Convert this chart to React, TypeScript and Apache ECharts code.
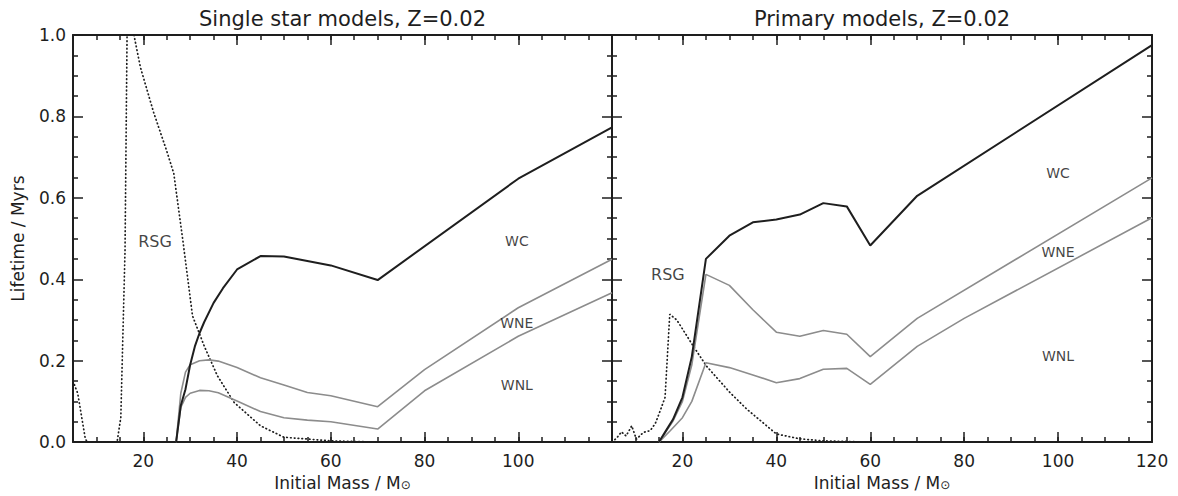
import React, { useEffect, useRef } from 'react';
import * as echarts from 'echarts';

type Pt = [number, number];

const FONT = 'DejaVu Sans';
const INK = '#1e1e1e';
const GREY = '#8c8c8c';

const panelTitles = ['Single star models, Z=0.02', 'Primary models, Z=0.02'];
const xAxisName = 'Initial Mass / M{sun|⊙}';
const yAxisName = 'Lifetime / Myrs';
const majorMassTicks = [20, 40, 60, 80, 100, 120];

// Single star models
const singleWC: Pt[] = [[27, 0], [28, 0.09], [29, 0.13], [30, 0.19], [31, 0.235], [32, 0.268], [33, 0.295], [35, 0.342], [37, 0.378], [40, 0.424], [45, 0.457], [50, 0.456], [60, 0.434], [70, 0.398], [100, 0.647], [120, 0.773]];
const singleWNE: Pt[] = [[27, 0], [28, 0.12], [29, 0.172], [30, 0.19], [32, 0.2], [34, 0.202], [36, 0.199], [40, 0.183], [45, 0.158], [50, 0.14], [55, 0.122], [60, 0.114], [70, 0.087], [80, 0.178], [100, 0.33], [120, 0.449]];
const singleWNL: Pt[] = [[27, 0], [28, 0.085], [29, 0.11], [30, 0.12], [32, 0.127], [34, 0.126], [36, 0.121], [40, 0.101], [45, 0.075], [50, 0.06], [55, 0.054], [60, 0.05], [70, 0.032], [80, 0.126], [100, 0.26], [120, 0.367]];
const singleRSG: Pt[] = [[5, 0.15], [6, 0.12], [7.6, 0.01], [8, 0], [14.4, 0], [15.2, 0.06], [16.1, 0.47], [16.6, 1.08], [18, 1.0], [19.4, 0.92], [22.2, 0.81], [25, 0.715], [26.5, 0.66], [28.5, 0.49], [30.5, 0.31], [33, 0.236], [35.8, 0.163], [39.4, 0.097], [45, 0.04], [50, 0.012], [60, 0.003], [70, 0], [120, 0]];

// Primary models
const primaryWC: Pt[] = [[15, 0], [16.6, 0.03], [18, 0.056], [20, 0.11], [22, 0.21], [25, 0.45], [30, 0.507], [35, 0.54], [40, 0.547], [45, 0.559], [50, 0.587], [55, 0.579], [60, 0.483], [70, 0.605], [120, 0.975]];
const primaryWNE: Pt[] = [[15, 0], [16.6, 0.028], [18, 0.052], [20, 0.1], [22, 0.19], [25, 0.412], [30, 0.385], [35, 0.325], [40, 0.27], [45, 0.26], [50, 0.274], [55, 0.265], [60, 0.21], [70, 0.304], [120, 0.649]];
const primaryWNL: Pt[] = [[15, 0], [17.4, 0.028], [20, 0.06], [22, 0.1], [25, 0.195], [30, 0.183], [35, 0.165], [40, 0.146], [45, 0.156], [50, 0.179], [55, 0.181], [60, 0.142], [70, 0.235], [80, 0.304], [120, 0.551]];
const primaryRSG: Pt[] = [[5, 0], [6, 0.01], [7, 0.025], [8, 0.015], [9.2, 0.04], [10.2, 0.007], [11.7, 0.024], [13.1, 0.028], [14.2, 0.045], [15.2, 0.075], [16.3, 0.11], [17.3, 0.314], [18.8, 0.3], [22.3, 0.236], [25.1, 0.187], [30.1, 0.122], [33.7, 0.081], [40, 0.02], [45, 0.008], [50, 0.003], [60, 0], [120, 0]];

// Region labels (mass, lifetime, text)
const singleLabels: [number, number, string][] = [[22.5, 0.493, 'RSG'], [99.7, 0.493, 'WC'], [99.7, 0.292, 'WNE'], [99.7, 0.14, 'WNL']];
const primaryLabels: [number, number, string][] = [[16.9, 0.412, 'RSG'], [100, 0.662, 'WC'], [100, 0.466, 'WNE'], [100, 0.211, 'WNL']];

const GRIDS = [
  { left: 73, top: 35, width: 539, height: 408 },
  { left: 612, top: 35, width: 540, height: 408 },
];

function makeXAxes(gridIndex: number, labelMax: number) {
  const base: any = { type: 'value', gridIndex, min: 5, max: 120, interval: 5, splitLine: { show: false } };
  const tickStyle = { color: INK, width: 1.5 };
  const axes: any[] = [];
  for (const position of ['bottom', 'top']) {
    const isBottom = position === 'bottom';
    axes.push({
      ...base,
      position,
      axisLine: { show: true, onZero: false, lineStyle: { color: INK, width: 2 } },
      axisTick: { show: true, inside: true, length: 5, lineStyle: tickStyle },
      axisLabel: isBottom
        ? {
            show: true, margin: 10, fontFamily: FONT, fontSize: 17, color: INK,
            formatter: (v: number) => (v % 20 === 0 && v >= 20 && v <= labelMax ? String(v) : ''),
          }
        : { show: false },
      name: isBottom ? xAxisName : '',
      nameLocation: 'middle',
      nameGap: 30,
      nameTextStyle: {
        fontFamily: FONT, fontSize: 17, color: INK,
        rich: { sun: { fontFamily: FONT, fontSize: 12, color: INK, verticalAlign: 'bottom' } },
      },
    });
    axes.push({
      ...base,
      position,
      axisLine: { show: false, onZero: false },
      axisTick: { show: true, inside: true, length: 10, customValues: majorMassTicks, lineStyle: tickStyle },
      axisLabel: { show: false },
    });
  }
  return axes;
}

function makeYAxes(gridIndex: number, withLabels: boolean) {
  const tickStyle = { color: INK, width: 1.5 };
  return ['left', 'right'].map((position) => ({
    type: 'value',
    gridIndex,
    position,
    min: 0,
    max: 1,
    interval: 0.2,
    splitLine: { show: false },
    axisLine: { show: true, onZero: false, lineStyle: { color: INK, width: 2 } },
    axisTick: { show: true, inside: true, length: 10, lineStyle: tickStyle },
    minorTick: { show: true, splitNumber: 4, length: 5, lineStyle: tickStyle },
    minorSplitLine: { show: false },
    axisLabel:
      withLabels && position === 'left'
        ? { show: true, margin: 7, fontFamily: FONT, fontSize: 17, color: INK, formatter: (v: number) => v.toFixed(1) }
        : { show: false },
    name: withLabels && position === 'left' ? yAxisName : '',
    nameLocation: 'middle',
    nameGap: 47,
    nameTextStyle: { fontFamily: FONT, fontSize: 17, color: INK },
  }));
}

function lineSeries(data: Pt[], xi: number, yi: number, color: string, dotted = false, z = 3) {
  return {
    type: 'line',
    xAxisIndex: xi,
    yAxisIndex: yi,
    data,
    showSymbol: false,
    symbol: 'none',
    smooth: false,
    silent: true,
    z,
    lineStyle: dotted
      ? { color: INK, width: 1.7, type: [0.6, 3.2], cap: 'round' }
      : { color, width: color === GREY ? 1.6 : 2 },
  };
}

function labelSeries(labels: [number, number, string][], xi: number, yi: number) {
  return {
    type: 'scatter',
    xAxisIndex: xi,
    yAxisIndex: yi,
    silent: true,
    symbolSize: 1,
    itemStyle: { color: 'transparent' },
    z: 5,
    data: labels.map(([x, y, t]) => ({
      value: [x, y],
      label: {
        show: true,
        position: 'inside',
        formatter: t,
        fontFamily: FONT,
        fontSize: t === 'RSG' ? 16 : 14,
        color: '#111',
      },
    })),
  };
}

export default function App() {
  const ref = useRef<HTMLDivElement>(null);
  useEffect(() => {
    if (!ref.current) return;
    const chart = echarts.init(ref.current, null, { renderer: 'svg' });
    const option: any = {
      animation: false,
      backgroundColor: '#ffffff',
      grid: GRIDS,
      xAxis: [...makeXAxes(0, 100), ...makeXAxes(1, 120)],
      yAxis: [...makeYAxes(0, true), ...makeYAxes(1, false)],
      graphic: panelTitles.map((text, i) => ({
        type: 'text',
        x: GRIDS[i].left + GRIDS[i].width / 2,
        y: 19,
        silent: true,
        style: { text, fontFamily: FONT, fontSize: 21, fill: INK, textAlign: 'center', textVerticalAlign: 'middle' },
      })),
      series: [
        lineSeries(singleRSG, 0, 0, INK, true, 2),
        lineSeries(singleWNL, 0, 0, GREY),
        lineSeries(singleWNE, 0, 0, GREY),
        lineSeries(singleWC, 0, 0, INK, false, 4),
        labelSeries(singleLabels, 0, 0),
        lineSeries(primaryRSG, 4, 2, INK, true, 2),
        lineSeries(primaryWNL, 4, 2, GREY),
        lineSeries(primaryWNE, 4, 2, GREY),
        lineSeries(primaryWC, 4, 2, INK, false, 4),
        labelSeries(primaryLabels, 4, 2),
      ],
    };
    chart.setOption(option);
    return () => chart.dispose();
  }, []);
  return (
    <div
      ref={ref}
      style={{ position: 'fixed', left: 0, top: 0, width: 1178, height: 496, background: '#fff' }}
    />
  );
}
